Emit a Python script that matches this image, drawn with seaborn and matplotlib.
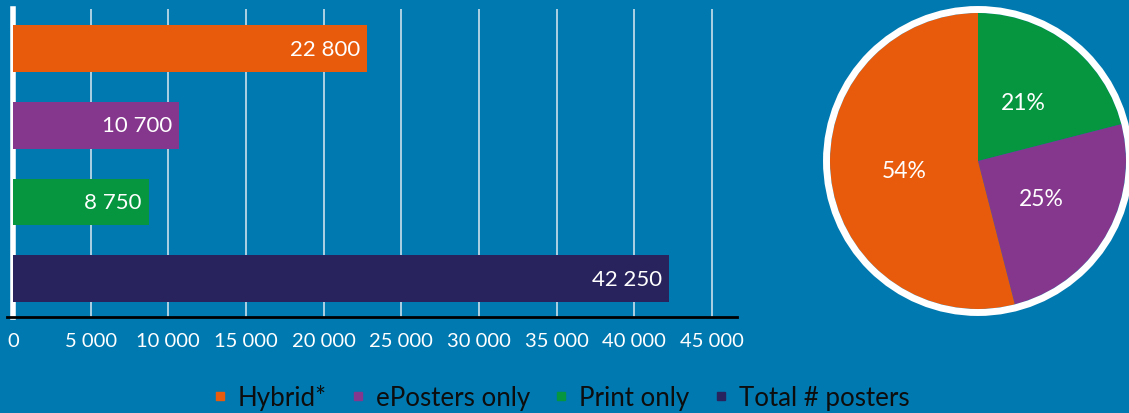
import matplotlib
matplotlib.use("Agg")
import matplotlib.pyplot as plt
from matplotlib.lines import Line2D
from matplotlib.patches import Circle
import seaborn as sns
import pandas as pd

categories = ["Hybrid*", "ePosters only", "Print only", "Total # posters"]
values = [22800, 10700, 8750, 42250]
colors = ["#E95B0C", "#84378C", "#05963F", "#28235C"]

pie_labels = ["Print only", "ePosters only", "Hybrid*"]
pie_values = [21, 25, 54]
pie_colors = ["#05963F", "#84378C", "#E95B0C"]

xticks = [0, 5000, 10000, 15000, 20000, 25000, 30000, 35000, 40000, 45000]

BG = "#0079B0"
sns.set_theme(style="white")
plt.rcParams["font.family"] = ["Lato", "DejaVu Sans"]

fig = plt.figure(figsize=(11.29, 4.14), dpi=100, facecolor=BG)

def fmt(v):
    return f"{int(round(v)):,}".replace(",", " ")

# Bar chart
ax = fig.add_axes([7/1129, 1-318/414, 730/1129, 308/414])
ax.set_facecolor(BG)
df = pd.DataFrame({"cat": categories, "val": values})
sns.barplot(data=df, y="cat", x="val", hue="cat", palette=colors, order=categories,
            hue_order=categories, width=0.61, legend=False, ax=ax, saturation=1,
            linewidth=0)
ax.set_xlim(-390, 46620)
ax.set_ylim(3.5, -0.515)
ax.set_xticks(xticks)
ax.set_xticklabels([fmt(t) for t in xticks], color="white", fontsize=14.5)
ax.set_yticks([])
ax.set_xlabel("")
ax.set_ylabel("")
ax.tick_params(axis="x", length=0, pad=11)
for t in xticks[1:]:
    ax.axvline(t, color="#dce9f1", lw=1.1, zorder=0)
for s in ["top", "right"]:
    ax.spines[s].set_visible(False)
ax.spines["left"].set_position(("data", 0))
ax.spines["left"].set_color("white")
ax.spines["left"].set_linewidth(4)
ax.spines["left"].set_zorder(0.5)
ax.spines["bottom"].set_color("black")
ax.spines["bottom"].set_linewidth(2)
for c in ax.containers:
    ax.bar_label(c, labels=[fmt(v) for v in c.datavalues], label_type="edge",
                 padding=-5, color="white", fontsize=16)
for txt in ax.texts:
    txt.set_ha("right")

# Pie chart
r_px = 148
lim = 1.08
size = 2 * lim * r_px
cx, cy = 978, 162
pax = fig.add_axes([(cx - size/2)/1129, 1 - (cy + size/2)/414, size/1129, size/414])
pax.set_facecolor(BG)
wedges, texts, autotexts = pax.pie(
    pie_values, colors=pie_colors, startangle=90, counterclock=False,
    autopct=lambda p: f"{p:.0f}%", pctdistance=0.5,
    wedgeprops=dict(linewidth=0), textprops=dict(color="white", fontsize=16.5))
pax.add_patch(Circle((0, 0), 151.5/148, fill=False, edgecolor="white", lw=5.0, zorder=5))
pax.set_xlim(-lim, lim)
pax.set_ylim(-lim, lim)
pax.set_aspect("equal")
pax.axis("off")

# Legend
handles = [Line2D([0], [0], marker="s", linestyle="none", markersize=6,
                  markerfacecolor=c, markeredgecolor=c) for c in colors]
leg = fig.legend(handles, categories, loc="center", bbox_to_anchor=(561.5/1129, 1 - 398/414),
                 ncol=4, frameon=False, fontsize=18.6, handlelength=0.5,
                 handletextpad=0.45, columnspacing=0.95, labelcolor="#0d0d0d")

fig.savefig("out.png", dpi=100, facecolor=BG)
